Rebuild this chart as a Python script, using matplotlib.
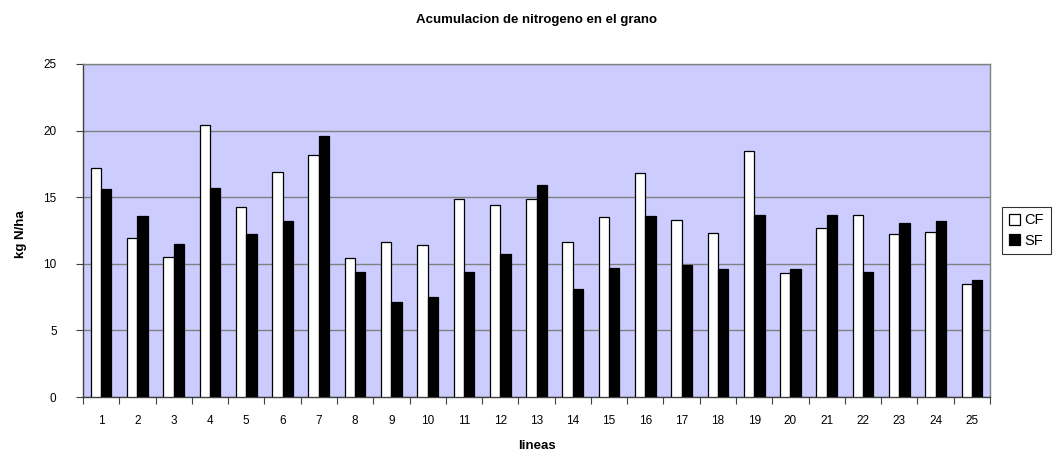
import matplotlib
matplotlib.use("Agg")
import matplotlib.pyplot as plt
import numpy as np

categories = [str(i) for i in range(1, 26)]
cf_values = [17.2, 11.9, 10.5, 20.4, 14.3, 16.9, 18.2, 10.4, 11.6, 11.4,
             14.9, 14.4, 14.9, 11.6, 13.5, 16.8, 13.3, 12.3, 18.5, 9.3,
             12.7, 13.7, 12.2, 12.4, 8.5]
sf_values = [15.6, 13.6, 11.5, 15.7, 12.2, 13.2, 19.6, 9.4, 7.1, 7.5,
             9.4, 10.7, 15.9, 8.1, 9.7, 13.6, 9.9, 9.6, 13.7, 9.6,
             13.7, 9.4, 13.1, 13.2, 8.8]
yticks = [0, 5, 10, 15, 20, 25]

plt.rcParams['font.family'] = ['Liberation Sans', 'DejaVu Sans']

W, H = 1059, 453
fig = plt.figure(figsize=(W / 100, H / 100), dpi=100)
ax = fig.add_axes([83 / W, 1 - 397 / H, (990 - 83) / W, (397 - 64) / H])
ax.set_facecolor('#CCCCFF')

x = np.arange(len(categories))
w = 0.285
ax.bar(x - w / 2, cf_values, w, color='white', edgecolor='black', linewidth=0.9, label='CF', zorder=3)
ax.bar(x + w / 2, sf_values, w, color='black', edgecolor='black', linewidth=0.9, label='SF', zorder=3)

ax.set_xlim(-0.5, len(categories) - 0.5)
ax.set_ylim(0, 25)
ax.set_yticks(yticks)
ax.set_yticklabels([str(v) for v in yticks], fontsize=8.5)
ax.yaxis.grid(True, color='#808080', linewidth=1.0, zorder=1)
ax.set_axisbelow(True)

ax.set_xticks(x)
ax.set_xticklabels(categories, fontsize=8.5)
ax.set_xticks(np.arange(-0.5, len(categories)), minor=True)
ax.tick_params(axis='x', which='major', length=0, pad=13)
ax.tick_params(axis='x', which='minor', length=5, width=0.8, color='#404040')
ax.tick_params(axis='y', length=5, width=0.8, color='#404040', pad=14)

for s in ax.spines.values():
    s.set_color('#808080')
    s.set_linewidth(1.0)
ax.spines['left'].set_color('#404040')
ax.spines['bottom'].set_color('#404040')

ax.set_ylabel('kg N/ha', fontsize=9.5, fontweight='bold', va='center')
ax.yaxis.set_label_coords((21 - 83) / 907, 0.49)
ax.set_xlabel('lineas', fontsize=9.5, fontweight='bold', va='center')
ax.xaxis.set_label_coords(0.5, (397 - 446) / 333)

fig.text(536 / W, 1 - 20 / H, 'Acumulacion de nitrogeno en el grano',
         ha='center', va='center', fontsize=9.5, fontweight='bold')

leg = fig.legend(loc='center left', bbox_to_anchor=(1002 / W, 1 - 230.5 / H),
                 fontsize=10.5, frameon=True, fancybox=False, handlelength=0.8,
                 handleheight=0.8, handletextpad=0.3, borderpad=0.45,
                 labelspacing=0.45, borderaxespad=0)
leg.get_frame().set_edgecolor('black')
leg.get_frame().set_linewidth(0.8)

fig.savefig('out.png', dpi=100)
